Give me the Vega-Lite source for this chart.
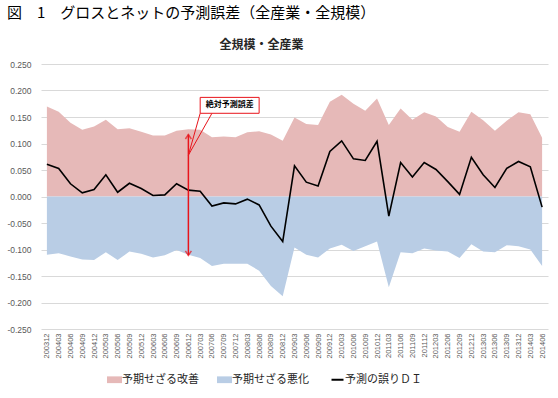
{
  "$schema": "https://vega.github.io/schema/vega-lite/v6.json",
  "background": "white",
  "padding": {"left": 6, "top": 6, "right": 8, "bottom": 2},
  "title": {
    "text": "図　1　グロスとネットの予測誤差（全産業・全規模）",
    "anchor": "start",
    "frame": "bounds",
    "font": "Noto Sans CJK JP",
    "fontSize": 15,
    "fontWeight": "normal",
    "color": "#000000",
    "offset": 18
  },
  "datasets": {
    "main": [
      {"q": "200312", "imp": 0.170, "wor": -0.110, "di": 0.061},
      {"q": "200403", "imp": 0.160, "wor": -0.107, "di": 0.053},
      {"q": "200406", "imp": 0.139, "wor": -0.113, "di": 0.024},
      {"q": "200409", "imp": 0.126, "wor": -0.119, "di": 0.007},
      {"q": "200412", "imp": 0.132, "wor": -0.120, "di": 0.013},
      {"q": "200503", "imp": 0.145, "wor": -0.105, "di": 0.041},
      {"q": "200506", "imp": 0.127, "wor": -0.120, "di": 0.008},
      {"q": "200509", "imp": 0.129, "wor": -0.104, "di": 0.025},
      {"q": "200512", "imp": 0.122, "wor": -0.108, "di": 0.015},
      {"q": "200603", "imp": 0.115, "wor": -0.115, "di": 0.002},
      {"q": "200606", "imp": 0.115, "wor": -0.111, "di": 0.003},
      {"q": "200609", "imp": 0.124, "wor": -0.101, "di": 0.024},
      {"q": "200612", "imp": 0.127, "wor": -0.110, "di": 0.012},
      {"q": "200703", "imp": 0.126, "wor": -0.116, "di": 0.010},
      {"q": "200706", "imp": 0.112, "wor": -0.131, "di": -0.018},
      {"q": "200709", "imp": 0.113, "wor": -0.127, "di": -0.012},
      {"q": "200712", "imp": 0.112, "wor": -0.127, "di": -0.014},
      {"q": "200803", "imp": 0.121, "wor": -0.127, "di": -0.005},
      {"q": "200806", "imp": 0.123, "wor": -0.140, "di": -0.016},
      {"q": "200809", "imp": 0.117, "wor": -0.169, "di": -0.056},
      {"q": "200812", "imp": 0.105, "wor": -0.188, "di": -0.085},
      {"q": "200903", "imp": 0.149, "wor": -0.096, "di": 0.058},
      {"q": "200906", "imp": 0.137, "wor": -0.110, "di": 0.027},
      {"q": "200909", "imp": 0.135, "wor": -0.115, "di": 0.020},
      {"q": "200912", "imp": 0.179, "wor": -0.098, "di": 0.085},
      {"q": "201003", "imp": 0.192, "wor": -0.091, "di": 0.105},
      {"q": "201006", "imp": 0.175, "wor": -0.103, "di": 0.071},
      {"q": "201009", "imp": 0.162, "wor": -0.094, "di": 0.068},
      {"q": "201012", "imp": 0.185, "wor": -0.085, "di": 0.104},
      {"q": "201103", "imp": 0.135, "wor": -0.171, "di": -0.037},
      {"q": "201106", "imp": 0.166, "wor": -0.105, "di": 0.064},
      {"q": "201109", "imp": 0.145, "wor": -0.107, "di": 0.037},
      {"q": "201112", "imp": 0.159, "wor": -0.098, "di": 0.064},
      {"q": "201203", "imp": 0.151, "wor": -0.102, "di": 0.051},
      {"q": "201206", "imp": 0.131, "wor": -0.104, "di": 0.028},
      {"q": "201209", "imp": 0.122, "wor": -0.116, "di": 0.004},
      {"q": "201212", "imp": 0.160, "wor": -0.090, "di": 0.074},
      {"q": "201303", "imp": 0.144, "wor": -0.104, "di": 0.041},
      {"q": "201306", "imp": 0.124, "wor": -0.105, "di": 0.017},
      {"q": "201309", "imp": 0.143, "wor": -0.092, "di": 0.053},
      {"q": "201312", "imp": 0.159, "wor": -0.094, "di": 0.066},
      {"q": "201403", "imp": 0.155, "wor": -0.100, "di": 0.056},
      {"q": "201406", "imp": 0.111, "wor": -0.131, "di": -0.020}
    ],
    "arrow": [
      {"q": "200612", "top": 0.117, "bottom": -0.111}
    ],
    "heads": [
      {"q": "200612", "v": 0.117, "dir": "up"},
      {"q": "200612", "v": -0.111, "dir": "down"}
    ],
    "callout": [
      {"q1": "200703", "q2": "200806", "qt": "200709", "ytop": 0.187, "ybot": 0.157, "ymid": 0.172, "label": "絶対予測誤差"}
    ],
    "pointer": [
      {"q": "200703", "v": 0.157, "o": 1},
      {"q": "200612", "v": 0.078, "o": 2},
      {"q": "200706", "v": 0.157, "o": 3}
    ]
  },
  "vconcat": [
    {
      "width": 507,
      "height": 265,
      "title": {
        "text": "全規模・全産業",
        "anchor": "middle",
        "dx": -33,
        "font": "Noto Sans CJK JP",
        "fontSize": 12,
        "fontWeight": "bold",
        "color": "#262626",
        "offset": 8
      },
      "layer": [
        {
          "data": {"name": "main"},
          "mark": {"type": "area", "opacity": 1},
          "encoding": {
            "x": {
              "field": "q", "type": "ordinal",
              "scale": {"type": "point", "padding": 0.5},
              "axis": {
                "title": null, "labelAngle": -90, "labelFont": "Liberation Sans",
                "labelFontSize": 7.5, "labelColor": "#595959", "ticks": false,
                "domain": false, "labelPadding": 4, "grid": false, "labelOverlap": false
              }
            },
            "y": {
              "field": "imp", "type": "quantitative",
              "scale": {"domain": [-0.25, 0.25], "nice": false},
              "axis": {
                "title": null, "values": [-0.25, -0.2, -0.15, -0.1, -0.05, 0, 0.05, 0.1, 0.15, 0.2, 0.25],
                "tickCount": 20,
                "labelExpr": "replace(format(datum.value, '.3f'), '−', '-')",
                "labelFont": "Liberation Sans", "labelFontSize": 8.5, "labelColor": "#595959",
                "labelOverlap": false,
                "ticks": false, "domain": false, "labelPadding": 10,
                "grid": true, "gridColor": "#D9D9D9", "gridWidth": 1
              }
            },
            "color": {
              "datum": "予期せざる改善", "type": "nominal",
              "scale": {
                "domain": ["予期せざる改善", "予期せざる悪化", "予測の誤りＤＩ"],
                "range": ["#E6B9B8", "#B9CDE5", "#000000"]
              },
              "legend": {
                "title": null,
                "orient": "none",
                "direction": "horizontal",
                "legendX": 68,
                "legendY": 310,
                "labelFont": "Noto Sans CJK JP",
                "labelFontSize": 11,
                "labelColor": "#262626",
                "labelOffset": 2,
                "columnPadding": 18,
                "symbolSize": 225,
                "symbolType": "square",
                "encode": {
                  "symbols": {
                    "update": {
                      "shape": {"signal": "datum.value === '予測の誤りＤＩ' ? 'M-0.8,0L0.8,0' : 'M-1,-0.45L1,-0.45L1,0.45L-1,0.45Z'"},
                      "fill": {"signal": "datum.value === '予測の誤りＤＩ' ? 'transparent' : scale('color', datum.value)"},
                      "stroke": {"signal": "scale('color', datum.value)"},
                      "strokeWidth": {"signal": "datum.value === '予測の誤りＤＩ' ? 2 : 0"},
                      "opacity": {"value": 1}
                    }
                  }
                }
              }
            }
          }
        },
        {
          "data": {"name": "main"},
          "mark": {"type": "area", "opacity": 1},
          "encoding": {
            "x": {"field": "q", "type": "ordinal"},
            "y": {
              "field": "wor", "type": "quantitative",
              "axis": {
                "title": null, "values": [-0.25, -0.2, -0.15, -0.1, -0.05, 0, 0.05, 0.1, 0.15, 0.2, 0.25],
                "tickCount": 20,
                "labelExpr": "replace(format(datum.value, '.3f'), '−', '-')",
                "labelFont": "Liberation Sans", "labelFontSize": 8.5, "labelColor": "#595959",
                "labelOverlap": false,
                "ticks": false, "domain": false, "labelPadding": 10,
                "grid": true, "gridColor": "#D9D9D9", "gridWidth": 1
              }
            },
            "color": {
              "datum": "予期せざる悪化", "type": "nominal",
              "legend": {
                "title": null,
                "orient": "none",
                "direction": "horizontal",
                "legendX": 68,
                "legendY": 310,
                "labelFont": "Noto Sans CJK JP",
                "labelFontSize": 11,
                "labelColor": "#262626",
                "labelOffset": 2,
                "columnPadding": 18,
                "symbolSize": 225,
                "symbolType": "square",
                "encode": {
                  "symbols": {
                    "update": {
                      "shape": {"signal": "datum.value === '予測の誤りＤＩ' ? 'M-0.8,0L0.8,0' : 'M-1,-0.45L1,-0.45L1,0.45L-1,0.45Z'"},
                      "fill": {"signal": "datum.value === '予測の誤りＤＩ' ? 'transparent' : scale('color', datum.value)"},
                      "stroke": {"signal": "scale('color', datum.value)"},
                      "strokeWidth": {"signal": "datum.value === '予測の誤りＤＩ' ? 2 : 0"},
                      "opacity": {"value": 1}
                    }
                  }
                }
              }
            }
          }
        },
        {
          "data": {"name": "main"},
          "mark": {"type": "line", "strokeWidth": 1.6},
          "encoding": {
            "x": {"field": "q", "type": "ordinal"},
            "y": {
              "field": "di", "type": "quantitative",
              "axis": {
                "title": null, "values": [-0.25, -0.2, -0.15, -0.1, -0.05, 0, 0.05, 0.1, 0.15, 0.2, 0.25],
                "tickCount": 20,
                "labelExpr": "replace(format(datum.value, '.3f'), '−', '-')",
                "labelFont": "Liberation Sans", "labelFontSize": 8.5, "labelColor": "#595959",
                "labelOverlap": false,
                "ticks": false, "domain": false, "labelPadding": 10,
                "grid": true, "gridColor": "#D9D9D9", "gridWidth": 1
              }
            },
            "color": {
              "datum": "予測の誤りＤＩ", "type": "nominal",
              "legend": {
                "title": null,
                "orient": "none",
                "direction": "horizontal",
                "legendX": 68,
                "legendY": 310,
                "labelFont": "Noto Sans CJK JP",
                "labelFontSize": 11,
                "labelColor": "#262626",
                "labelOffset": 2,
                "columnPadding": 18,
                "symbolSize": 225,
                "symbolType": "square",
                "encode": {
                  "symbols": {
                    "update": {
                      "shape": {"signal": "datum.value === '予測の誤りＤＩ' ? 'M-0.8,0L0.8,0' : 'M-1,-0.45L1,-0.45L1,0.45L-1,0.45Z'"},
                      "fill": {"signal": "datum.value === '予測の誤りＤＩ' ? 'transparent' : scale('color', datum.value)"},
                      "stroke": {"signal": "scale('color', datum.value)"},
                      "strokeWidth": {"signal": "datum.value === '予測の誤りＤＩ' ? 2 : 0"},
                      "opacity": {"value": 1}
                    }
                  }
                }
              }
            }
          }
        },
        {
          "data": {"name": "arrow"},
          "mark": {"type": "rule", "color": "#E8141B", "strokeWidth": 1.5},
          "encoding": {
            "x": {"field": "q", "type": "ordinal"},
            "y": {"field": "top", "type": "quantitative"},
            "y2": {"field": "bottom"}
          }
        },
        {
          "data": {"name": "heads"},
          "mark": {"type": "point", "filled": false, "stroke": "#E8141B", "strokeWidth": 1.5, "size": 100},
          "encoding": {
            "x": {"field": "q", "type": "ordinal"},
            "y": {"field": "v", "type": "quantitative"},
            "shape": {
              "field": "dir", "type": "nominal",
              "scale": {"domain": ["up", "down"], "range": ["M-0.6,0.9L0,0L0.6,0.9", "M-0.6,-0.9L0,0L0.6,-0.9"]},
              "legend": null
            }
          }
        },
        {
          "data": {"name": "pointer"},
          "mark": {"type": "line", "color": "#E8141B", "strokeWidth": 1},
          "encoding": {
            "x": {"field": "q", "type": "ordinal"},
            "y": {"field": "v", "type": "quantitative"},
            "order": {"field": "o"}
          }
        },
        {
          "data": {"name": "callout"},
          "mark": {"type": "rect", "fill": "white", "stroke": "#E8141B", "strokeWidth": 1},
          "encoding": {
            "x": {"field": "q1", "type": "ordinal"},
            "x2": {"field": "q2"},
            "y": {"field": "ytop", "type": "quantitative"},
            "y2": {"field": "ybot"}
          }
        },
        {
          "data": {"name": "callout"},
          "mark": {"type": "text", "font": "Noto Sans CJK JP", "fontSize": 8, "fontWeight": "bold", "color": "#000000", "dx": 6, "align": "center", "baseline": "middle"},
          "encoding": {
            "x": {"field": "qt", "type": "ordinal"},
            "y": {"field": "ymid", "type": "quantitative"},
            "text": {"field": "label"}
          }
        }
      ]
    }
  ],
  "config": {
    "view": {"stroke": null},
    "font": "Noto Sans CJK JP",
    "axisY": {"labelOverlap": false},
    "axisQuantitative": {"labelOverlap": false}
  }
}
